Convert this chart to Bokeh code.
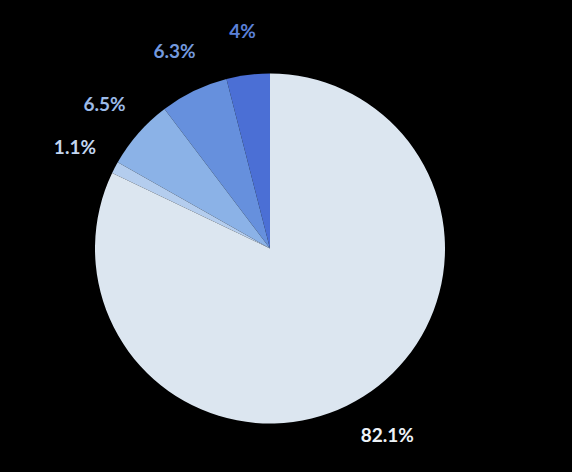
import numpy as np
from bokeh.plotting import figure
from bokeh.models import ColumnDataSource, Range1d
from bokeh.core.properties import value
from bokeh.embed import file_html
from bokeh.resources import INLINE

# Data (anticlockwise from 12 o'clock)
labels = ["4%", "6.3%", "6.5%", "1.1%", "82.1%"]
shares = [4.0, 6.3, 6.5, 1.1, 82.1]
slice_colors = ["#4b6fd5", "#6690dd", "#8bb2e7", "#b4cdee", "#dce6f0"]
label_colors = ["#5b80d9", "#7399de", "#9cbbe8", "#c3d6f0", "#edf2f7"]

W, H = 572, 472
cx, cy, r, lr = 269.5, 224, 175, 220

fr = np.array(shares) / sum(shares)
cum = np.concatenate([[0], np.cumsum(fr)])
start = np.pi / 2 + cum[:-1] * 2 * np.pi
end = np.pi / 2 + cum[1:] * 2 * np.pi
mid = (start + end) / 2

src = ColumnDataSource(dict(
    start=start, end=end, color=slice_colors, label=labels, lcolor=label_colors,
    lx=cx + lr * np.cos(mid), ly=cy + lr * np.sin(mid),
))

p = figure(width=W, height=H, output_backend="svg", toolbar_location=None,
           x_range=Range1d(0, W), y_range=Range1d(0, H), min_border=0)
p.axis.visible = False
p.grid.visible = False
p.outline_line_color = None
p.background_fill_color = "black"
p.border_fill_color = "black"

p.wedge(x=cx, y=cy, radius=r, start_angle="start", end_angle="end",
        fill_color="color", line_color=None, source=src)
p.text(x="lx", y="ly", text="label", text_color="lcolor", source=src,
       text_font=value("Lato"), text_font_style="bold", text_font_size="19px",
       text_align="center", text_baseline="middle")

html = file_html(p, INLINE)
html = html.replace("</head>", "<style>html,body{background:#000 !important;}</style></head>", 1)
open("out.html", "w").write(html)
